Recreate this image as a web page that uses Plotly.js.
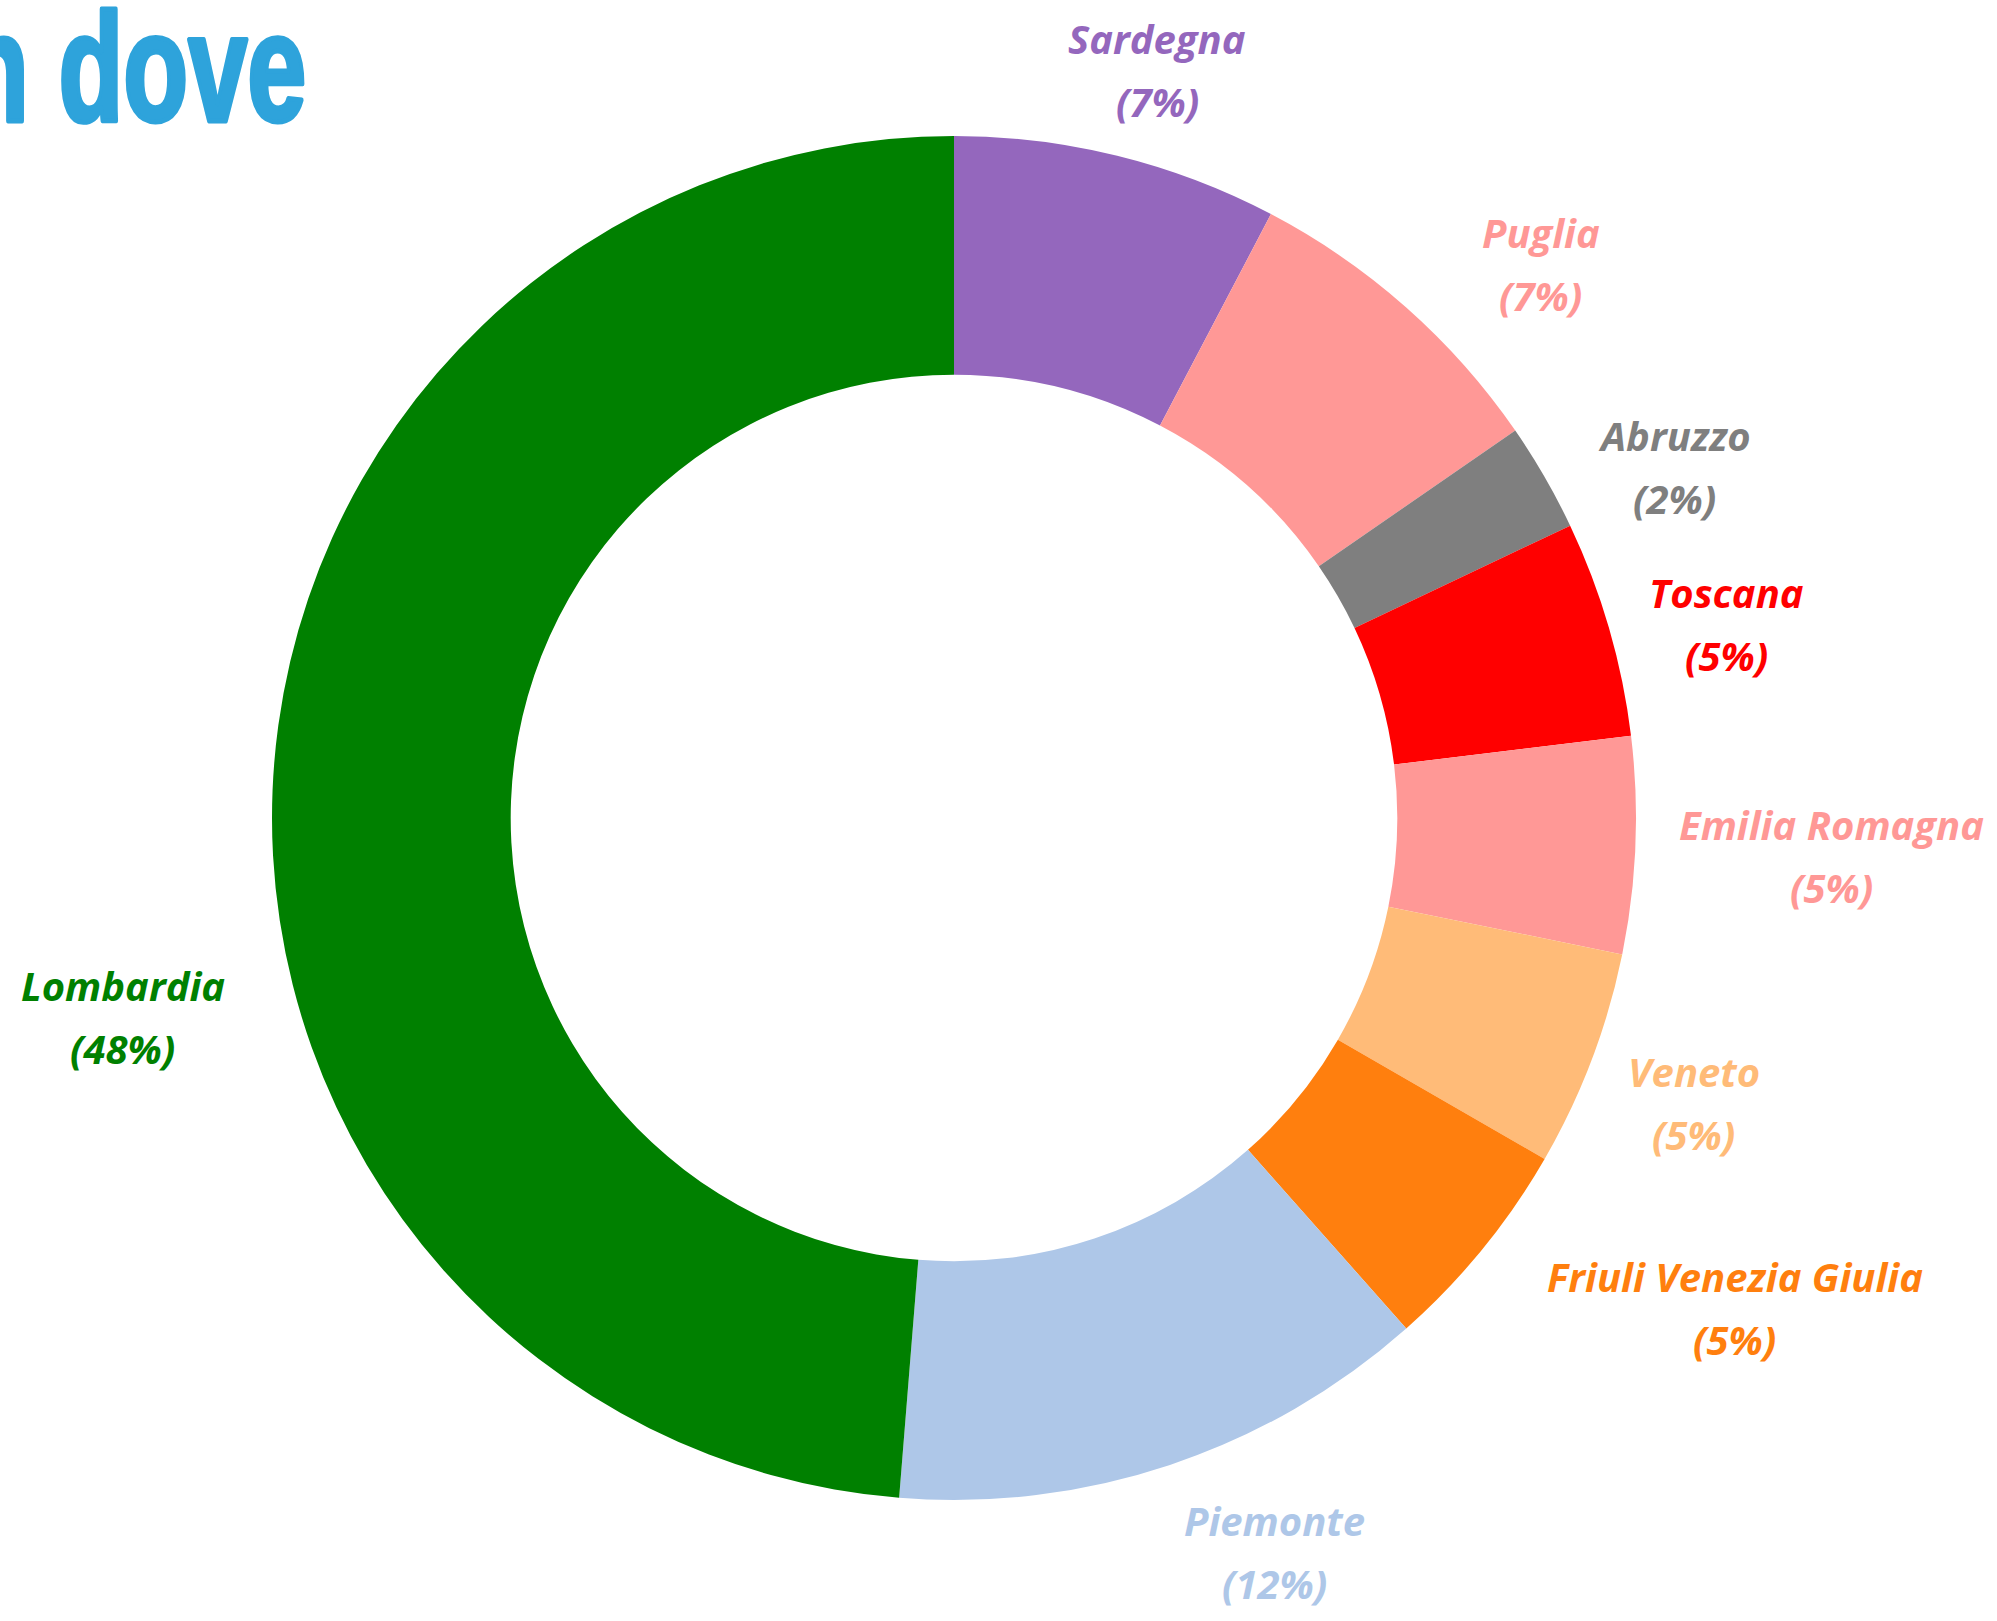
<!DOCTYPE html>
<html>
<head>
<meta charset="utf-8">
<script src="https://cdn.plot.ly/plotly-3.0.1.min.js"></script>
<style>
  html, body { margin: 0; padding: 0; background: #ffffff; }
  #chart { width: 1997px; height: 1621px; }
</style>
</head>
<body>
<div id="chart"></div>
<script>
// ---- data ----
const regions = ['Sardegna', 'Puglia', 'Abruzzo', 'Toscana', 'Emilia Romagna',
                 'Veneto', 'Friuli Venezia Giulia', 'Piemonte', 'Lombardia'];
const counts = [3, 3, 1, 2, 2, 2, 2, 5, 19];
const regionColors = ['#9467bd', '#ff9896', '#7f7f7f', '#ff0000', '#ff9896',
                      '#ffbb78', '#ff7f0e', '#aec7e8', '#008000'];
const titleText = 'n dove';

// ---- layout geometry (pixels) ----
const W = 1997, H = 1621;
const CX = 954, CY = 818, R = 682;
const LABEL_R = 790;
const LINE_GAP = 63;
// per-label nudges [dx, dy] in px from the mid-angle anchor
const labelNudge = [[14, 19], [63, 37], [36, 44], [14, 26], [88, 6],
                    [1, 5], [169, -10], [70, -15], [-42, 231]];

const px = x => x / W;
const py = y => 1 - y / H;

const total = counts.reduce((a, b) => a + b, 0);
const annotations = [];
let cum = 0;
counts.forEach((v, i) => {
  const mid = (cum + v / 2) / total * 2 * Math.PI;
  cum += v;
  const ax = CX + LABEL_R * Math.sin(mid) + labelNudge[i][0];
  const ay = CY - LABEL_R * Math.cos(mid) + labelNudge[i][1];
  const pct = '(' + Math.floor(100 * v / total) + '%)';
  const font = { family: 'Open Sans', size: 40, color: regionColors[i], weight: 700, style: 'italic' };
  annotations.push({
    xref: 'paper', yref: 'paper', x: px(ax), y: py(ay - LINE_GAP / 2),
    xanchor: 'center', yanchor: 'middle', showarrow: false,
    text: '<b><i>' + regions[i] + '</i></b>', font: font
  });
  annotations.push({
    xref: 'paper', yref: 'paper', x: px(ax), y: py(ay + LINE_GAP / 2),
    xanchor: 'center', yanchor: 'middle', showarrow: false,
    text: '<b><i>' + pct + '</i></b>', font: font
  });
});

const TITLE_FS = 128;
annotations.push({
  xref: 'paper', yref: 'paper', x: px(-38), y: 1, yshift: -3,
  xanchor: 'left', yanchor: 'top', showarrow: false,
  text: '<b>' + titleText + '</b>',
  font: { family: 'Liberation Sans', size: TITLE_FS, color: '#2ea3db', weight: 700 }
});

const trace = {
  type: 'pie',
  labels: regions,
  values: counts,
  sort: false,
  direction: 'clockwise',
  rotation: 0,
  hole: 0.65,
  textinfo: 'none',
  hoverinfo: 'skip',
  showlegend: false,
  marker: { colors: regionColors, line: { width: 0 } },
  domain: { x: [px(CX - R), px(CX + R)], y: [py(CY + R), py(CY - R)] }
};

const layout = {
  width: W, height: H,
  margin: { l: 0, r: 0, t: 0, b: 0 },
  paper_bgcolor: '#ffffff',
  plot_bgcolor: '#ffffff',
  showlegend: false,
  annotations: annotations
};

Plotly.newPlot('chart', [trace], layout, { staticPlot: true, displayModeBar: false }).then(() => {
  // condense and stretch the headline to mimic a tall condensed display face
  document.querySelectorAll('.annotation-text').forEach(t => {
    if (t.textContent === titleText) {
      const bb = t.getBBox();
      const sx = 0.83, sy = 1.2;
      const baseline = bb.y + bb.height - 0.212 * TITLE_FS;
      const left = bb.x;
      t.setAttribute('transform',
        'translate(' + (left * (1 - sx)) + ',' + (baseline * (1 - sy)) + ') scale(' + sx + ',' + sy + ')');
      t.style.stroke = '#2ea3db';
      t.style.strokeWidth = '4px';
      t.style.strokeLinejoin = 'round';
    }
  });
});
</script>
</body>
</html>
